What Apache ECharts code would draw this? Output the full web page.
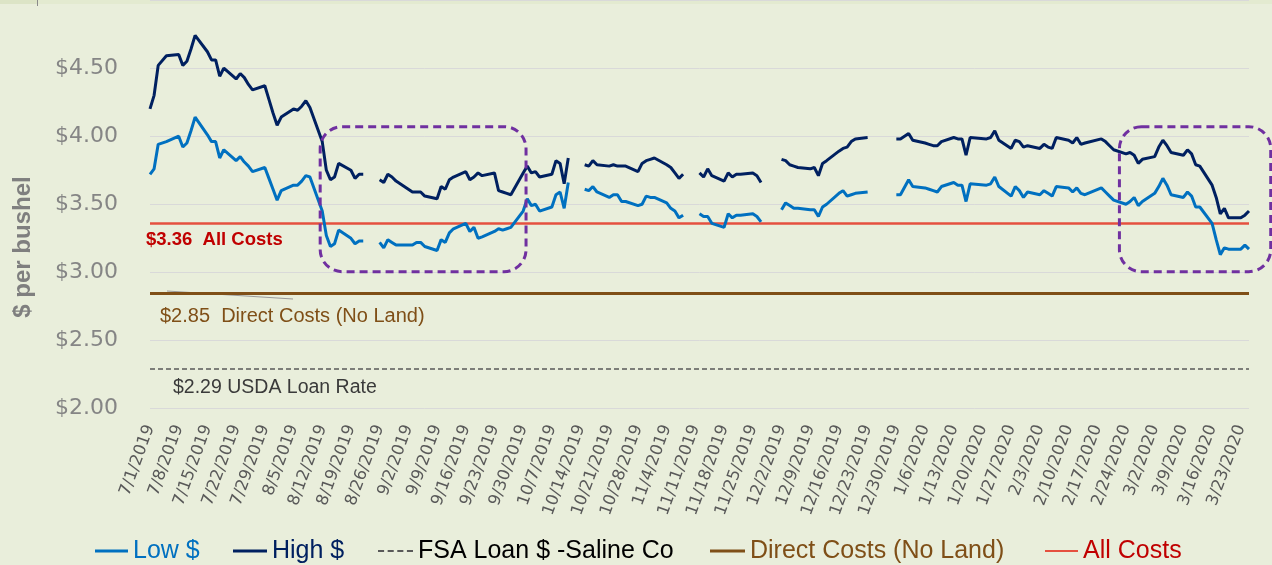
<!DOCTYPE html>
<html><head><meta charset="utf-8">
<script src="https://cdn.jsdelivr.net/npm/echarts@6/dist/echarts.min.js"></script>
<style>html,body{margin:0;padding:0;background:#E9EEDB;}#c{width:1272px;height:565px;}</style>
</head><body><div id="c"></div>
<script>
// ---- data ----
const dates = [
'2019-07-01','2019-07-02','2019-07-03','2019-07-05',
'2019-07-08','2019-07-09','2019-07-10','2019-07-11','2019-07-12',
'2019-07-15','2019-07-16','2019-07-17','2019-07-18','2019-07-19',
'2019-07-22','2019-07-23','2019-07-24','2019-07-25','2019-07-26',
'2019-07-29','2019-07-30','2019-07-31','2019-08-01','2019-08-02',
'2019-08-05','2019-08-06','2019-08-07','2019-08-08','2019-08-09',
'2019-08-12','2019-08-13','2019-08-14','2019-08-15','2019-08-16',
'2019-08-19','2019-08-20','2019-08-21','2019-08-22','2019-08-23',
'2019-08-26','2019-08-27','2019-08-28','2019-08-29','2019-08-30',
'2019-09-03','2019-09-04','2019-09-05','2019-09-06',
'2019-09-09','2019-09-10','2019-09-11','2019-09-12','2019-09-13',
'2019-09-16','2019-09-17','2019-09-18','2019-09-19','2019-09-20',
'2019-09-23','2019-09-24','2019-09-25','2019-09-26','2019-09-27',
'2019-09-30','2019-10-01','2019-10-02','2019-10-03','2019-10-04',
'2019-10-07','2019-10-08','2019-10-09','2019-10-10','2019-10-11',
'2019-10-14','2019-10-15','2019-10-16','2019-10-17','2019-10-18',
'2019-10-21','2019-10-22','2019-10-23','2019-10-24','2019-10-25',
'2019-10-28','2019-10-29','2019-10-30','2019-10-31','2019-11-01',
'2019-11-04','2019-11-05','2019-11-06','2019-11-07','2019-11-08',
'2019-11-11','2019-11-12','2019-11-13','2019-11-14','2019-11-15',
'2019-11-18','2019-11-19','2019-11-20','2019-11-21','2019-11-22',
'2019-11-25','2019-11-26','2019-11-27','2019-11-29',
'2019-12-02','2019-12-03','2019-12-04','2019-12-05','2019-12-06',
'2019-12-09','2019-12-10','2019-12-11','2019-12-12','2019-12-13',
'2019-12-16','2019-12-17','2019-12-18','2019-12-19','2019-12-20',
'2019-12-23','2019-12-24','2019-12-26','2019-12-27',
'2019-12-30','2019-12-31','2020-01-02','2020-01-03',
'2020-01-06','2020-01-07','2020-01-08','2020-01-09','2020-01-10',
'2020-01-13','2020-01-14','2020-01-15','2020-01-16','2020-01-17',
'2020-01-21','2020-01-22','2020-01-23','2020-01-24',
'2020-01-27','2020-01-28','2020-01-29','2020-01-30','2020-01-31',
'2020-02-03','2020-02-04','2020-02-05','2020-02-06','2020-02-07',
'2020-02-10','2020-02-11','2020-02-12','2020-02-13','2020-02-14',
'2020-02-18','2020-02-19','2020-02-20','2020-02-21',
'2020-02-24','2020-02-25','2020-02-26','2020-02-27','2020-02-28',
'2020-03-02','2020-03-03','2020-03-04','2020-03-05','2020-03-06',
'2020-03-09','2020-03-10','2020-03-11','2020-03-12','2020-03-13',
'2020-03-16','2020-03-17','2020-03-18','2020-03-19','2020-03-20',
'2020-03-23','2020-03-24','2020-03-25'
];
const lowVals = [
3.72,3.76,3.94,3.96,
4.00,3.92,3.95,4.04,4.14,
4.01,3.96,3.96,3.84,3.90,
3.82,3.85,3.81,3.78,3.74,
3.77,3.69,3.61,3.53,3.60,
3.64,3.64,3.67,3.71,3.70,
3.45,3.27,3.19,3.21,3.31,
3.25,3.21,3.23,3.23,null,
3.22,3.18,3.24,3.22,3.20,
3.20,3.22,3.22,3.19,
3.16,3.24,3.22,3.29,3.32,
3.36,3.30,3.33,3.25,3.26,
3.30,3.32,3.31,3.32,3.33,
3.45,3.54,3.49,3.50,3.45,
3.48,3.57,3.59,3.47,3.66,
null,3.61,3.60,3.63,3.59,
3.55,3.57,3.57,3.52,3.52,
3.49,3.50,3.56,3.55,3.55,
3.51,3.47,3.45,3.40,3.42,
null,3.43,3.41,3.41,3.36,
3.33,3.43,3.40,3.42,3.42,
3.43,3.41,3.37,null,
3.46,3.51,3.49,3.47,3.47,
3.46,3.46,3.41,3.48,3.50,
3.58,3.60,3.56,3.57,3.58,
3.59,null,null,null,
3.57,3.57,3.68,3.63,
3.62,3.61,3.60,3.59,3.63,
3.66,3.64,3.64,3.52,3.65,
3.64,3.65,3.70,3.63,
3.56,3.63,3.60,3.55,3.59,
3.57,3.60,3.58,3.56,3.63,
3.62,3.59,3.62,3.58,3.57,
3.62,3.59,3.56,3.53,
3.50,3.52,3.55,3.49,3.52,
3.58,3.63,3.69,3.64,3.57,
3.55,3.59,3.56,3.48,3.48,
3.36,3.24,3.13,3.18,3.17,
3.17,3.20,3.17
];
const highVals = [
4.20,4.30,4.52,4.59,
4.60,4.52,4.55,4.64,4.74,
4.62,4.56,4.56,4.44,4.50,
4.42,4.46,4.43,4.38,4.34,
4.37,4.27,4.17,4.08,4.14,
4.20,4.19,4.22,4.26,4.21,
3.96,3.75,3.68,3.70,3.80,
3.75,3.69,3.72,3.72,null,
3.68,3.66,3.72,3.70,3.67,
3.59,3.59,3.59,3.56,
3.54,3.63,3.61,3.68,3.70,
3.74,3.68,3.70,3.73,3.71,
3.73,3.60,3.59,3.58,3.57,
3.73,3.78,3.73,3.74,3.70,
3.72,3.82,3.80,3.65,3.84,
null,3.79,3.78,3.82,3.79,
3.78,3.79,3.78,3.78,3.78,
3.74,3.80,3.82,3.83,3.84,
3.79,3.77,3.73,3.69,3.72,
null,3.73,3.70,3.76,3.71,
3.67,3.73,3.70,3.72,3.72,
3.73,3.71,3.66,null,
3.83,3.82,3.79,3.78,3.77,
3.76,3.77,3.71,3.80,3.82,
3.89,3.91,3.92,3.96,3.98,
3.99,null,null,null,
3.98,3.98,4.02,3.97,
3.95,3.94,3.93,3.93,3.96,
3.99,3.98,3.98,3.86,3.99,
3.98,3.99,4.04,3.97,
3.91,3.97,3.96,3.92,3.93,
3.91,3.94,3.92,3.91,3.99,
3.97,3.95,3.99,3.94,3.95,
3.98,3.96,3.93,3.90,
3.87,3.88,3.86,3.80,3.83,
3.85,3.92,3.97,3.93,3.88,
3.86,3.90,3.87,3.79,3.78,
3.64,3.55,3.43,3.47,3.40,
3.40,3.42,3.45
];
const allCosts = 3.36;
const directCosts = 2.85;
const fsaLoan = 2.29;
const seriesNames = ['Low $', 'High $', 'FSA Loan $ -Saline Co', 'Direct Costs (No Land)', 'All Costs'];
const axisStartDate = '2019-07-01';
const axisEndDate = '2020-03-25';
const yMin = 2, yMax = 5, yStep = 0.5;
const xStepDays = 7;

// ---- helpers ----
const BASE = Date.UTC(2019, 6, 1);
function dayIdx(s){ const p = s.split('-').map(Number); return (Date.UTC(p[0], p[1]-1, p[2]) - BASE) / 864e5; }
function fmtDay(v){ const d = new Date(BASE + v * 864e5); return (d.getUTCMonth()+1) + '/' + d.getUTCDate() + '/' + d.getUTCFullYear(); }
const xs = dates.map(dayIdx);
const lowData = xs.map((x, i) => [x, lowVals[i] == null ? '-' : lowVals[i]]);
const highData = xs.map((x, i) => [x, highVals[i] == null ? '-' : highVals[i]]);

const C = {
  low: '#0070C0', high: '#002060', fsa: '#595959', direct: '#7F4F17', all: '#E5503F',
  allText: '#C00000', fsaText: '#000000'
};

const chart = echarts.init(document.getElementById('c'), null, {renderer: 'canvas'});

function refSeries(name, value, color, width, type){
  return {
    name, type: 'line', data: [], symbol: 'none', showSymbol: false,
    lineStyle: {color, width, type}, itemStyle: {color}, z: 2,
    markLine: {
      silent: true, symbol: 'none', label: {show: false}, animation: false,
      emphasis: {disabled: true},
      lineStyle: {color, width, type},
      data: [{yAxis: value}]
    }
  };
}

const DASH_ICON = 'path://M0,0H6V2H0Z M9.5,0H15.5V2H9.5Z M19,0H25V2H19Z M28.5,0H34.5V2H28.5Z';
function legendItem(name, color, iconColor, left, w, icon, h){
  return {
    data: [{name, textStyle: {color}, icon, itemStyle: {color: iconColor}}], left, top: 546 - 15,
    itemWidth: w, itemHeight: h, itemGap: 0, selectedMode: false, symbolKeepAspect: false,
    textStyle: {fontSize: 25, fontFamily: 'Liberation Sans', color, lineHeight: 30}
  };
}

const option = {
  backgroundColor: '#E9EEDB',
  animation: false,
  grid: {left: 150, right: 23, top: -7, bottom: 156.5, containLabel: false},
  xAxis: {
    type: 'value', min: dayIdx(axisStartDate), max: dayIdx(axisEndDate), interval: xStepDays,
    axisLine: {show: false}, axisTick: {show: false}, splitLine: {show: false},
    axisLabel: {rotate: 70, margin: 17, fontFamily: 'DejaVu Sans', fontSize: 16.5, color: '#595959',
      formatter: fmtDay, showMaxLabel: false, showMinLabel: true}
  },
  yAxis: {
    type: 'value', min: yMin, max: yMax, interval: yStep,
    axisLine: {show: false}, axisTick: {show: false},
    splitLine: {lineStyle: {color: '#D9D9D9', width: 1}},
    axisLabel: {margin: 32, fontFamily: 'DejaVu Sans', fontSize: 22, color: '#858585',
      formatter: v => '$' + v.toFixed(2), showMaxLabel: false}
  },
  legend: [
    legendItem(seriesNames[0], C.low, C.low, 90, 33, 'rect', 3),
    legendItem(seriesNames[1], C.high, C.high, 228, 34, 'rect', 3),
    legendItem(seriesNames[2], C.fsaText, C.fsa, 373, 35, DASH_ICON, 2),
    legendItem(seriesNames[3], C.direct, C.direct, 705, 35, 'rect', 3),
    legendItem(seriesNames[4], C.allText, C.all, 1040, 33, 'rect', 2)
  ],
  series: [
    {name: seriesNames[0], type: 'line', data: lowData, symbol: 'none', showSymbol: false, connectNulls: false,
     lineStyle: {color: C.low, width: 3}, itemStyle: {color: C.low}, z: 5},
    {name: seriesNames[1], type: 'line', data: highData, symbol: 'none', showSymbol: false, connectNulls: false,
     lineStyle: {color: C.high, width: 3}, itemStyle: {color: C.high}, z: 5},
    refSeries(seriesNames[2], fsaLoan, C.fsa, 1.5, [5, 3]),
    refSeries(seriesNames[3], directCosts, C.direct, 3, 'solid'),
    refSeries(seriesNames[4], allCosts, C.all, 2.5, 'solid')
  ],
  graphic: [
    {type: 'rect', shape: {x: 0, y: 0, width: 37, height: 4}, style: {fill: '#DCE4C6'}, silent: true},
    {type: 'rect', shape: {x: 38, y: 0, width: 1234, height: 4}, style: {fill: '#E3EAD0'}, silent: true},
    {type: 'line', shape: {x1: 37.5, y1: 0, x2: 37.5, y2: 6}, style: {stroke: '#8A8A8A', lineWidth: 1}, silent: true},
    {type: 'text', x: 23, y: 247, rotation: Math.PI / 2, silent: true,
     style: {text: '$ per bushel', font: 'bold 24px "Liberation Sans"', fill: '#7F7F7F', align: 'center', verticalAlign: 'middle', textAlign: 'center', textVerticalAlign: 'middle'}},
    {type: 'text', x: 146, y: 240, silent: true,
     style: {text: '$3.36  All Costs', font: 'bold 18.5px "Liberation Sans"', fill: C.allText, align: 'left', verticalAlign: 'middle', textAlign: 'left', textVerticalAlign: 'middle'}},
    {type: 'text', x: 160, y: 316, silent: true,
     style: {text: '$2.85  Direct Costs (No Land)', font: '20px "Liberation Sans"', fill: C.direct, align: 'left', verticalAlign: 'middle', textAlign: 'left', textVerticalAlign: 'middle'}},
    {type: 'text', x: 173, y: 387.5, silent: true,
     style: {text: '$2.29 USDA Loan Rate', font: '19.5px "Liberation Sans"', fill: '#3A3A3A', align: 'left', verticalAlign: 'middle', textAlign: 'left', textVerticalAlign: 'middle'}},
    {type: 'line', shape: {x1: 167, y1: 291, x2: 293, y2: 299}, style: {stroke: '#9A9A9A', lineWidth: 1}, silent: true}
  ]
};
chart.setOption(option);

// highlight boxes, placed in data coordinates (day index, $ value)
const boxes = [
  {x0: 41.5, x1: 91.7, y0: 4.07, y1: 3.005},
  {x0: 236.4, x1: 273.3, y0: 4.07, y1: 3.005}
];
const boxGraphics = boxes.map((b, i) => {
  const p1 = chart.convertToPixel({gridIndex: 0}, [b.x0, b.y0]);
  const p2 = chart.convertToPixel({gridIndex: 0}, [b.x1, b.y1]);
  return {type: 'rect', id: 'box' + i, silent: true, z: 10,
    shape: {x: p1[0], y: p1[1], width: p2[0] - p1[0], height: p2[1] - p1[1], r: 22},
    style: {fill: 'none', stroke: '#7030A0', lineWidth: 3, lineDash: [8, 5]}};
});
chart.setOption({graphic: option.graphic.concat(boxGraphics)});
</script>
</body></html>
